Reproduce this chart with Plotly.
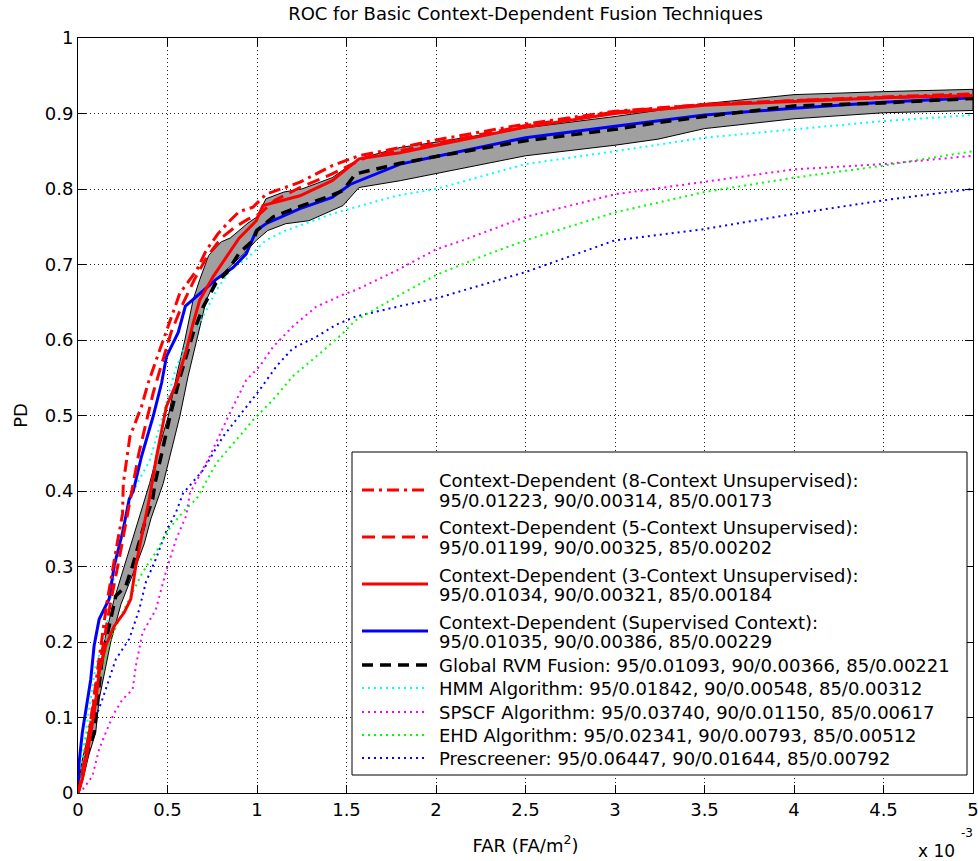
import plotly.graph_objects as go

# ---------------- data (FAR in units of 1e-3 FA/m^2, PD) ----------------
NAMES = [
    "Context-Dependent (8-Context Unsupervised):",
    "Context-Dependent (5-Context Unsupervised):",
    "Context-Dependent (3-Context Unsupervised):",
    "Context-Dependent (Supervised Context):",
    "Global RVM Fusion:",
    "HMM Algorithm:",
    "SPSCF Algorithm:",
    "EHD Algorithm:",
    "Prescreener:",
]
STATS = [
    "95/0.01223, 90/0.00314, 85/0.00173",
    "95/0.01199, 90/0.00325, 85/0.00202",
    "95/0.01034, 90/0.00321, 85/0.00184",
    "95/0.01035, 90/0.00386, 85/0.00229",
    "95/0.01093, 90/0.00366, 85/0.00221",
    "95/0.01842, 90/0.00548, 85/0.00312",
    "95/0.03740, 90/0.01150, 85/0.00617",
    "95/0.02341, 90/0.00793, 85/0.00512",
    "95/0.06447, 90/0.01644, 85/0.00792",
]

ctx8_x = [0, 0.01, 0.024, 0.05, 0.08, 0.118, 0.16, 0.22, 0.249, 0.253, 0.29, 0.355, 0.392, 0.457, 0.513, 0.569,
          0.662, 0.717, 0.78, 0.848, 0.9, 0.978, 1.05, 1.24, 1.42, 1.57, 1.8, 2.0, 2.5, 3.0, 3.5, 4.0, 4.5, 5.0]
ctx8_y = [0, 0.01, 0.022, 0.06, 0.11, 0.177, 0.25, 0.332, 0.37, 0.41, 0.472, 0.512, 0.543, 0.587, 0.626, 0.662,
          0.692, 0.719, 0.74, 0.758, 0.77, 0.776, 0.793, 0.809, 0.831, 0.844, 0.855, 0.865, 0.886, 0.903, 0.912,
          0.917, 0.922, 0.926]

ctx5_x = [0, 0.015, 0.04, 0.07, 0.1, 0.13, 0.18, 0.23, 0.27, 0.30, 0.34, 0.38, 0.42, 0.47, 0.52, 0.58, 0.65, 0.72,
          0.80, 0.88, 0.95, 1.015, 1.1, 1.24, 1.42, 1.61, 1.8, 2.0, 2.5, 3.0, 3.5, 4.0, 4.5, 5.0]
ctx5_y = [0, 0.015, 0.05, 0.09, 0.14, 0.18, 0.25, 0.31, 0.36, 0.40, 0.45, 0.49, 0.53, 0.57, 0.61, 0.645, 0.68, 0.71,
          0.735, 0.75, 0.76, 0.767, 0.785, 0.802, 0.82, 0.842, 0.851, 0.86, 0.884, 0.902, 0.912, 0.917, 0.921, 0.925]

ctx3_x = [0, 0.024, 0.052, 0.09, 0.118, 0.155, 0.202, 0.258, 0.295, 0.323, 0.36, 0.398, 0.439, 0.494, 0.55, 0.606,
          0.643, 0.68, 0.755, 0.83, 0.9, 0.996, 1.033, 1.24, 1.42, 1.57, 1.8, 2.0, 2.5, 3.0, 3.5, 4.0, 4.5, 5.0]
ctx3_y = [0, 0.018, 0.053, 0.106, 0.159, 0.195, 0.221, 0.239, 0.257, 0.301, 0.345, 0.389, 0.446, 0.512, 0.543, 0.587,
          0.622, 0.653, 0.684, 0.71, 0.735, 0.758, 0.778, 0.791, 0.811, 0.840, 0.848, 0.858, 0.882, 0.9, 0.911,
          0.916, 0.921, 0.924]

sup_x = [0, 0.006, 0.024, 0.043, 0.071, 0.09, 0.118, 0.174, 0.202, 0.249, 0.286, 0.309, 0.355, 0.42, 0.467, 0.494,
         0.513, 0.56, 0.60, 0.68, 0.77, 0.866, 0.94, 0.996, 1.05, 1.24, 1.42, 1.52, 1.8, 2.0, 2.5, 3.0, 3.5, 4.0,
         4.5, 5.0]
sup_y = [0, 0.04, 0.08, 0.106, 0.15, 0.195, 0.23, 0.257, 0.301, 0.345, 0.389, 0.40, 0.446, 0.499, 0.543, 0.578,
         0.587, 0.61, 0.645, 0.661, 0.68, 0.696, 0.714, 0.745, 0.754, 0.774, 0.789, 0.806, 0.833, 0.843, 0.868,
         0.883, 0.898, 0.907, 0.915, 0.921]

rvm_x = [0, 0.034, 0.052, 0.09, 0.118, 0.136, 0.174, 0.211, 0.267, 0.305, 0.342, 0.379, 0.417, 0.43, 0.513, 0.57,
         0.643, 0.70, 0.77, 0.83, 0.90, 0.978, 1.0, 1.09, 1.24, 1.39, 1.48, 1.55, 1.80, 2.0, 2.5, 3.0, 3.24, 3.5,
         4.0, 4.5, 5.0]
rvm_y = [0, 0.035, 0.053, 0.08, 0.142, 0.181, 0.221, 0.261, 0.274, 0.301, 0.332, 0.363, 0.389, 0.41, 0.498, 0.551,
         0.609, 0.644, 0.675, 0.689, 0.715, 0.732, 0.745, 0.763, 0.777, 0.789, 0.798, 0.820, 0.834, 0.843, 0.864,
         0.879, 0.888, 0.896, 0.910, 0.914, 0.920]

band_hi_x = [0, 0.02, 0.05, 0.07, 0.10, 0.146, 0.20, 0.258, 0.30, 0.342, 0.40, 0.45, 0.504, 0.55, 0.597, 0.643,
             0.68, 0.73, 0.80, 0.85, 0.95, 1.0, 1.05, 1.15, 1.25, 1.42, 1.57, 1.8, 2.0, 2.5, 3.0, 3.5, 4.0, 4.5, 5.0]
band_hi_y = [0, 0.04, 0.07, 0.08, 0.124, 0.20, 0.255, 0.30, 0.33, 0.363, 0.41, 0.455, 0.499, 0.552, 0.60, 0.653,
             0.68, 0.712, 0.73, 0.735, 0.755, 0.763, 0.787, 0.796, 0.80, 0.815, 0.84, 0.855, 0.862, 0.881, 0.896,
             0.913, 0.925, 0.929, 0.932]
band_lo_x = [0, 0.03, 0.06, 0.099, 0.118, 0.183, 0.24, 0.323, 0.37, 0.407, 0.476, 0.52, 0.569, 0.615, 0.662, 0.717,
             0.77, 0.866, 0.93, 0.996, 1.06, 1.16, 1.29, 1.48, 1.57, 1.8, 2.0, 2.5, 3.0, 3.24, 3.5, 4.0, 4.5, 5.0]
band_lo_y = [0, 0.02, 0.05, 0.08, 0.124, 0.20, 0.25, 0.30, 0.33, 0.363, 0.41, 0.45, 0.499, 0.552, 0.60, 0.653,
             0.68, 0.701, 0.715, 0.732, 0.745, 0.754, 0.758, 0.778, 0.802, 0.811, 0.82, 0.844, 0.858, 0.866, 0.880,
             0.893, 0.901, 0.904]

hmm_x = [0, 0.015, 0.043, 0.07, 0.099, 0.155, 0.18, 0.21, 0.245, 0.28, 0.33, 0.40, 0.45, 0.513, 0.55, 0.606, 0.68,
         0.773, 0.866, 0.94, 1.05, 1.16, 1.42, 1.61, 1.78, 2.0, 2.5, 3.0, 3.5, 4.0, 4.5, 5.0]
hmm_y = [0, 0.035, 0.08, 0.12, 0.168, 0.212, 0.25, 0.30, 0.345, 0.38, 0.41, 0.44, 0.48, 0.534, 0.565, 0.596, 0.622,
         0.666, 0.697, 0.707, 0.732, 0.745, 0.767, 0.78, 0.791, 0.80, 0.833, 0.85, 0.868, 0.879, 0.890, 0.898]

spscf_x = [0, 0.024, 0.08, 0.118, 0.155, 0.202, 0.249, 0.305, 0.323, 0.36, 0.435, 0.49, 0.548, 0.604, 0.625, 0.736,
           0.848, 0.94, 1.015, 1.09, 1.20, 1.33, 1.48, 1.55, 1.78, 2.0, 2.15, 2.5, 3.0, 3.5, 4.0, 4.5, 5.0]
spscf_y = [0, 0.004, 0.022, 0.058, 0.08, 0.106, 0.124, 0.137, 0.168, 0.212, 0.243, 0.292, 0.336, 0.367, 0.397,
           0.446, 0.503, 0.547, 0.565, 0.591, 0.618, 0.644, 0.66, 0.666, 0.692, 0.72, 0.732, 0.763, 0.793, 0.809,
           0.826, 0.833, 0.844]

ehd_x = [0, 0.006, 0.034, 0.043, 0.099, 0.136, 0.174, 0.23, 0.286, 0.36, 0.435, 0.51, 0.585, 0.66, 0.68, 0.773,
         0.90, 0.978, 1.09, 1.20, 1.35, 1.48, 1.55, 1.8, 2.0, 2.25, 2.5, 3.0, 3.5, 4.0, 4.5, 5.0]
ehd_y = [0, 0.009, 0.053, 0.071, 0.124, 0.159, 0.199, 0.23, 0.257, 0.292, 0.319, 0.35, 0.372, 0.389, 0.397, 0.437,
         0.472, 0.494, 0.521, 0.552, 0.582, 0.609, 0.626, 0.66, 0.686, 0.71, 0.732, 0.769, 0.796, 0.815, 0.831, 0.850]

pre_x = [0, 0.015, 0.043, 0.08, 0.136, 0.211, 0.286, 0.342, 0.379, 0.435, 0.49, 0.548, 0.587, 0.70, 0.81, 0.94,
         1.015, 1.108, 1.20, 1.33, 1.44, 1.55, 1.8, 2.0, 2.5, 3.0, 3.5, 4.0, 4.5, 5.0]
pre_y = [0, 0.009, 0.053, 0.088, 0.124, 0.177, 0.204, 0.243, 0.279, 0.31, 0.345, 0.372, 0.397, 0.428, 0.472, 0.512,
         0.534, 0.565, 0.589, 0.604, 0.62, 0.631, 0.645, 0.655, 0.69, 0.732, 0.747, 0.767, 0.785, 0.80]

X_TICKS = [0, 0.5, 1, 1.5, 2, 2.5, 3, 3.5, 4, 4.5, 5]
X_LABELS = ["0", "0.5", "1", "1.5", "2", "2.5", "3", "3.5", "4", "4.5", "5"]
Y_TICKS = [0, 0.1, 0.2, 0.3, 0.4, 0.5, 0.6, 0.7, 0.8, 0.9, 1]
Y_LABELS = ["0", "0.1", "0.2", "0.3", "0.4", "0.5", "0.6", "0.7", "0.8", "0.9", "1"]

# ---------------- styles ----------------
FONT = "DejaVu Sans"
FS = 18
DOT = "2px,4px"
STYLES = [  # color, dash, width
    ("#ff0000", "12px,5px,3px,5px", 3),
    ("#ff0000", "13px,7px", 3),
    ("#ff0000", "solid", 3),
    ("#0000ff", "solid", 3),
    ("#000000", "11px,7px", 3.5),
    ("#00ffff", DOT, 2),
    ("#ff00ff", DOT, 2),
    ("#00ff00", DOT, 2),
    ("#0000ff", DOT, 2),
]
SERIES = [(ctx8_x, ctx8_y), (ctx5_x, ctx5_y), (ctx3_x, ctx3_y), (sup_x, sup_y), (rvm_x, rvm_y),
          (hmm_x, hmm_y), (spscf_x, spscf_y), (ehd_x, ehd_y), (pre_x, pre_y)]

fig = go.Figure()

# confidence band around global RVM fusion
fig.add_trace(go.Scatter(
    x=band_hi_x + band_lo_x[::-1], y=band_hi_y + band_lo_y[::-1],
    fill="toself", fillcolor="rgb(160,160,160)", mode="lines",
    line=dict(color="black", width=1), showlegend=False, hoverinfo="skip"))

draw_order = [8, 7, 6, 5, 3, 4, 2, 1, 0]
for i in draw_order:
    xs, ys = SERIES[i]
    c, d, w = STYLES[i]
    fig.add_trace(go.Scatter(x=xs, y=ys, mode="lines", name=NAMES[i],
                             line=dict(color=c, dash=d, width=w), showlegend=False))

# ---------------- layout ----------------
W, H = 978, 861
ML, MR, MT, MB = 78, 5, 38, 68
PW, PH = W - ML - MR, H - MT - MB


def pxx(v):
    return (v - ML) / PW


def pxy(v):
    return (H - MB - v) / PH


axis_common = dict(showline=True, linecolor="black", linewidth=1, mirror="allticks",
                   ticks="inside", ticklen=8, tickcolor="black", tickwidth=1,
                   showgrid=True, gridcolor="rgb(30,30,30)", gridwidth=1, griddash="1px,3px",
                   zeroline=False, ticklabeloverflow="allow", automargin=False,
                   tickfont=dict(family=FONT, size=FS, color="black"))

fig.update_layout(
    width=W, height=H,
    margin=dict(l=ML, r=MR, t=MT, b=MB),
    paper_bgcolor="white", plot_bgcolor="white",
    font=dict(family=FONT, size=FS, color="black"),
    title=dict(text="ROC for Basic Context-Dependent Fusion Techniques", x=0.5, xref="paper",
               xanchor="center", y=1 - 14 / H, yref="container", yanchor="middle",
               font=dict(family=FONT, size=FS, color="black")),
    xaxis=dict(range=[0, 5], tickvals=X_TICKS, ticktext=X_LABELS,
               title=dict(text="FAR (FA/m<sup>2</sup>)", standoff=20,
                          font=dict(family=FONT, size=FS)), **axis_common),
    yaxis=dict(range=[0, 1], tickvals=Y_TICKS, ticktext=Y_LABELS,
               title=dict(text="PD", standoff=12, font=dict(family=FONT, size=FS)), **axis_common),
    showlegend=False,
)

# exponent label
fig.add_annotation(x=pxx(957), y=pxy(851), xref="paper", yref="paper", text="x 10",
                   showarrow=False, xanchor="right", yanchor="middle", font=dict(family=FONT, size=FS - 1))
fig.add_annotation(x=pxx(959), y=pxy(833), xref="paper", yref="paper", text="-3",
                   showarrow=False, xanchor="left", yanchor="middle", font=dict(family=FONT, size=12))

# ---------------- manual legend ----------------
shapes = [dict(type="rect", xref="paper", yref="paper", x0=pxx(352), x1=pxx(967), y0=pxy(775), y1=pxy(452),
               fillcolor="white", line=dict(color="black", width=1), layer="above")]
two_line = [(480, 500, 490), (527, 547, 537), (575, 594, 584), (622, 641, 631)]
single = [665, 688, 712, 735, 758]
TX = 437
for i in range(9):
    c, d, w = STYLES[i]
    if i < 4:
        y1, y2, yl = two_line[i]
        fig.add_annotation(x=pxx(TX), y=pxy(y1), xref="paper", yref="paper", text=NAMES[i],
                           showarrow=False, xanchor="left", yanchor="middle")
        fig.add_annotation(x=pxx(TX), y=pxy(y2), xref="paper", yref="paper", text=STATS[i],
                           showarrow=False, xanchor="left", yanchor="middle")
    else:
        yl = single[i - 4]
        fig.add_annotation(x=pxx(TX), y=pxy(yl), xref="paper", yref="paper",
                           text=NAMES[i] + " " + STATS[i],
                           showarrow=False, xanchor="left", yanchor="middle")
    lw = w if i < 5 else 2
    shapes.append(dict(type="line", xref="paper", yref="paper", x0=pxx(362), x1=pxx(428),
                       y0=pxy(yl), y1=pxy(yl), line=dict(color=c, dash=d, width=lw), layer="above"))
fig.update_layout(shapes=shapes)

fig.write_html("out.html")
